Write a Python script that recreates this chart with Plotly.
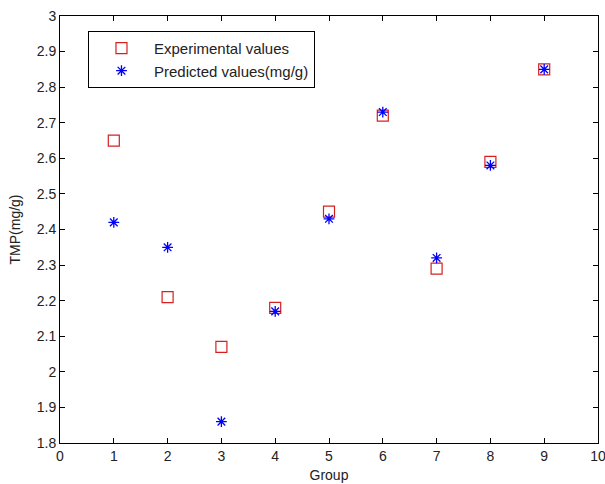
import plotly.graph_objects as go

groups = [1, 2, 3, 4, 5, 6, 7, 8, 9]
experimental = [2.65, 2.21, 2.07, 2.18, 2.45, 2.72, 2.29, 2.59, 2.85]
predicted = [2.42, 2.35, 1.86, 2.17, 2.43, 2.73, 2.32, 2.58, 2.85]
x_ticks = list(range(0, 11))
y_ticks = [1.8, 1.9, 2.0, 2.1, 2.2, 2.3, 2.4, 2.5, 2.6, 2.7, 2.8, 2.9, 3.0]
y_tick_text = ["1.8", "1.9", "2", "2.1", "2.2", "2.3", "2.4", "2.5", "2.6", "2.7", "2.8", "2.9", "3"]

FONT = "Liberation Sans, Arial"
fig = go.Figure()
fig.add_trace(go.Scatter(
    x=groups, y=experimental, mode="markers", name="Experimental values", legendgroup="a",
    marker=dict(symbol="square-open", size=11, color="#d62020", line=dict(width=1.2, color="#d62020")),
))
fig.add_trace(go.Scatter(
    x=groups, y=predicted, mode="markers", name="Predicted values(mg/g)", legendgroup="b",
    marker=dict(symbol="asterisk-open", size=9, color="#0000ff", line=dict(width=1.3, color="#0000ff")),
))

axis_common = dict(
    showline=True, linecolor="black", linewidth=1, mirror="ticks",
    ticks="inside", ticklen=5, tickcolor="black", showgrid=False, zeroline=False,
    tickfont=dict(family=FONT, size=14, color="#222"), automargin=False,
    ticklabeloverflow="allow",
)
fig.update_xaxes(range=[0, 10], tickvals=x_ticks,
                 title=dict(text="Group", font=dict(family=FONT, size=14, color="#222"), standoff=7),
                 **axis_common)
fig.update_yaxes(range=[1.8, 3.0], tickvals=y_ticks, ticktext=y_tick_text,
                 title=dict(text="TMP(mg/g)", font=dict(family=FONT, size=14, color="#222"), standoff=12),
                 **axis_common)

fig.update_layout(
    width=605, height=484,
    margin=dict(l=60, r=7, t=16, b=41),
    paper_bgcolor="white", plot_bgcolor="white",
    showlegend=True,
    legend=dict(x=0.052, y=0.965, xanchor="left", yanchor="top",
                bordercolor="black", borderwidth=1, bgcolor="white",
                font=dict(family=FONT, size=15, color="#222"),
                tracegroupgap=0, itemwidth=55),
)
fig.write_html("out.html", config={"displayModeBar": False},
               post_script="document.body.style.margin='0';document.body.style.overflow='hidden';")
